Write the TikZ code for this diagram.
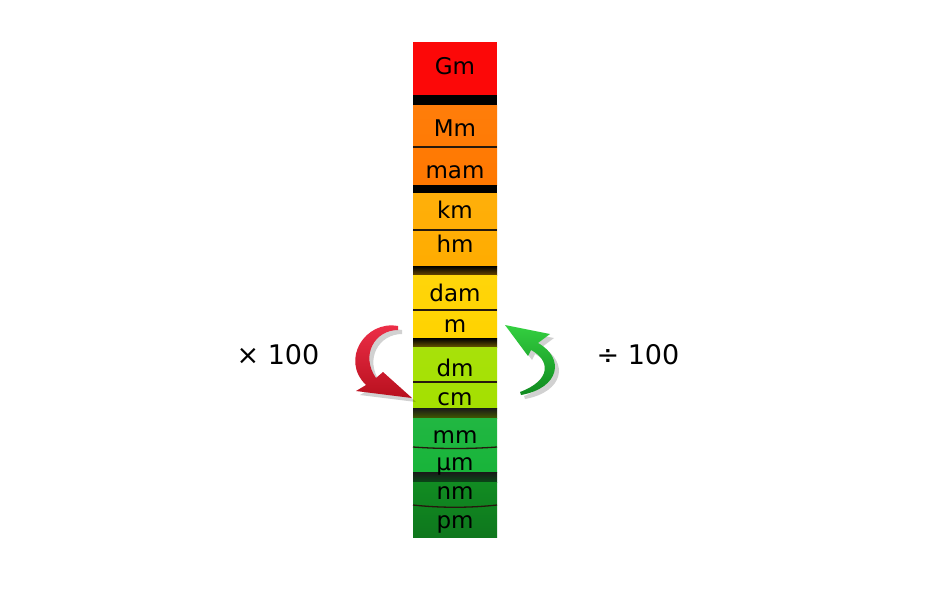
\documentclass[tikz,border=0pt]{standalone}
\usepackage{fontspec}
\setmainfont{DejaVu Sans}
\begin{document}
\begin{tikzpicture}[x=1pt,y=-1pt,
  seglabel/.style={anchor=base,font=\fontsize{23}{23}\selectfont,text=black,inner sep=0pt},
  sidelabel/.style={anchor=base,font=\fontsize{27}{27}\selectfont,text=black,inner sep=0pt},
  sepline/.style={draw=black!80!brown,line width=1.3pt}]
\useasboundingbox (0,0) rectangle (950,608);
\fill[white] (0,0) rectangle (950,608);
\definecolor{cGm}{HTML}{FC0808}
\definecolor{cMm}{HTML}{FF7800}
\definecolor{ckm}{HTML}{FFAC00}
\definecolor{cdam}{HTML}{FFD300}
\definecolor{cdm}{HTML}{A4E000}
\definecolor{cmm}{HTML}{18B43A}
\definecolor{cnm}{HTML}{118C22}
\definecolor{arrR}{HTML}{F0304A}
\definecolor{arrRd}{HTML}{B8101E}
\definecolor{arrG}{HTML}{34D040}
\definecolor{arrGd}{HTML}{108A20}
% column segments
\fill[cGm] (413,42) rectangle (497,95);
\fill[black] (413,95) rectangle (497,105);
\shade[top color=cMm!96!white,bottom color=cMm] (413,105) rectangle (497,185);
\fill[black] (413,185) rectangle (497,193);
\shade[top color=ckm!96!white,bottom color=ckm] (413,193) rectangle (497,266);
\shade[top color=black,bottom color=ckm!40!black] (413,266) rectangle (497,275);
\shade[top color=cdam!96!white,bottom color=cdam] (413,275) rectangle (497,338);
\shade[top color=black,bottom color=cdam!40!black] (413,338) rectangle (497,347);
\shade[top color=cdm!96!white,bottom color=cdm] (413,347) rectangle (497,408);
\shade[top color=black!90,bottom color=cdm!40!black] (413,408) rectangle (497,418);
\shade[top color=cmm!96!white,bottom color=cmm] (413,418) rectangle (497,472);
\shade[top color=black!90,bottom color=cmm!40!black] (413,472) rectangle (497,482);
\shade[top color=cnm,bottom color=cnm!85!black] (413,482) rectangle (497,537);
% separator lines
\draw[sepline] (413,147) -- (497,147);
\draw[sepline] (413,230) -- (497,230);
\draw[sepline] (413,310) -- (497,310);
\draw[sepline] (413,382) -- (497,382);
\draw[sepline] (413,447) .. controls (440,449) and (470,449) .. (497,447);
\draw[sepline] (413,505) .. controls (440,508) and (470,508) .. (497,505);
% labels
\node[seglabel] (Gm) at (455,74) {Gm};
\node[seglabel] (Mm) at (455,136) {Mm};
\node[seglabel] (mam) at (455,178) {mam};
\node[seglabel] (km) at (455,218) {km};
\node[seglabel] (hm) at (455,252) {hm};
\node[seglabel] (dam) at (455,301) {dam};
\node[seglabel] (m) at (455,332) {m};
\node[seglabel] (dm) at (455,376) {dm};
\node[seglabel] (cm) at (455,405) {cm};
\node[seglabel] (mm) at (455,443) {mm};
\node[seglabel] (um) at (455,470) {µm};
\node[seglabel] (nm) at (455,499) {nm};
\node[seglabel] (pm) at (455,528) {pm};
\node[sidelabel] (mul) at (278,364) {× 100};
\node[sidelabel] (div) at (638,364) {÷ 100};
% red arrow (shadow + body)
\fill[black,opacity=0.18] (402,330) .. controls (369,324) and (344,364) .. (370,389) -- (360,395) -- (416,402) -- (387,376) -- (380,382) .. controls (364,359) and (379,334) .. (402,334) -- cycle;
\shade[top color=arrR,bottom color=arrRd] (398,326) .. controls (365,320) and (340,360) .. (366,385) -- (356,391) -- (412,398) -- (383,372) -- (376,378) .. controls (360,355) and (375,330) .. (398,330) -- cycle;
% green arrow (shadow + body)
\fill[black,opacity=0.18] (509,329) -- (554,338) -- (542,347) .. controls (569,362) and (564,392) .. (525,399) -- (524,396) .. controls (556,384) and (554,364) .. (535,354) -- (532,360) -- cycle;
\shade[top color=arrG,bottom color=arrGd] (505,325) -- (550,334) -- (538,343) .. controls (565,358) and (560,388) .. (521,395) -- (520,392) .. controls (552,380) and (550,360) .. (531,350) -- (528,356) -- cycle;
\end{tikzpicture}
\end{document}
